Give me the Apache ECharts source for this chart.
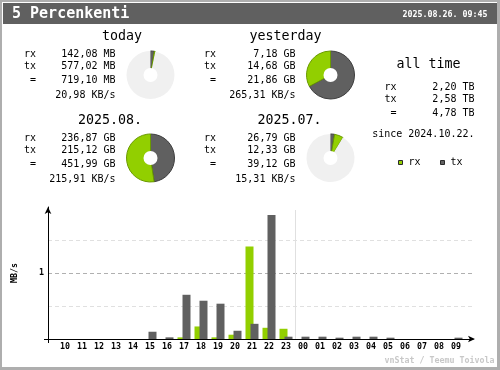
<!DOCTYPE html>
<html><head><meta charset="utf-8">
<script src="https://cdn.jsdelivr.net/npm/echarts@6/dist/echarts.min.js"></script>
<style>html,body{margin:0;padding:0;background:#fff}#c{width:500px;height:370px}</style>
</head><body><div id="c"></div>
<script>
// ---------------- DATA ----------------
const chartTitle = '5 Percenkenti';
const dateText = '2025.08.26. 09:45';
const periodNames = ['today', 'yesterday', '2025.08.', '2025.07.'];
const rxValues = [142.08, 7.18, 236.87, 26.79];
const rxUnits = ['MB', 'GB', 'GB', 'GB'];
const txValues = [577.02, 14.68, 215.12, 12.33];
const txUnits = ['MB', 'GB', 'GB', 'GB'];
const totalValues = [719.10, 21.86, 451.99, 39.12];
const totalUnits = ['MB', 'GB', 'GB', 'GB'];
const rateValues = [20.98, 265.31, 215.91, 15.31];
const rateUnit = 'KB/s';
const allTimeTitle = 'all time';
const allTimeLabels = ['rx', 'tx', '='];
const allTimeValues = [2.20, 2.58, 4.78];
const allTimeUnit = 'TB';
const sinceText = 'since 2024.10.22.';
const legendNames = ['rx', 'tx'];
const hourLabels = ['10','11','12','13','14','15','16','17','18','19','20','21','22','23',
                    '00','01','02','03','04','05','06','07','08','09'];
const rxRate = [0, 0, 0, 0, 0, 0, 0, 0.025, 0.19, 0.025, 0.065, 1.40, 0.17, 0.155,
                0, 0, 0, 0, 0, 0, 0, 0, 0, 0];
const txRate = [0, 0, 0, 0, 0, 0.11, 0.025, 0.67, 0.58, 0.535, 0.125, 0.23, 1.88, 0.035,
                0.035, 0.035, 0.02, 0.035, 0.035, 0.02, 0, 0, 0, 0.02];
const yTickLabels = [1];
const yAxisName = 'MB/s';
const footerText = 'vnStat / Teemu Toivola';

// ---------------- STYLE / LAYOUT ----------------
const GREEN = '#92cf00', GREEN_D = '#6a9a00';
const GRAY = '#606060', GRAY_D = '#3e3e3e';
const MONO = '"DejaVu Sans Mono"';
const pieCenters = [[150.5, 75], [330.5, 75], [150.5, 158], [330.5, 158]];
const pairOf = [1, 0, 3, 2];
const titlePos = [[122, 37], [285.5, 37], [110, 121], [289.5, 121]];
const labelX = [24, 204, 24, 204];
const valueRight = [115.5, 295.5, 115.5, 295.5];
const rowY = [[54, 66, 80, 95], [54, 66, 80, 95], [138, 150, 164, 179], [138, 150, 164, 179]];

const unitMB = { MB: 1, GB: 1024, TB: 1024 * 1024 };
const toMB = (v, u) => v * unitMB[u];
const fmt = v => v.toFixed(2).replace('.', ',');

function txt(text, x, y, font, align, color) {
  return {
    type: 'text', silent: true,
    style: { text: text, x: x, y: y, font: font, fill: color || '#000',
      textAlign: align || 'left', textVerticalAlign: 'middle',
      align: align || 'left', verticalAlign: 'middle' }
  };
}
const F10 = '10px ' + MONO;
const F13 = '13.3px ' + MONO;

const graphics = [
  { type: 'rect', silent: true, shape: { x: 0, y: 0, width: 2, height: 370 }, style: { fill: '#aeaeae' } },
  { type: 'rect', silent: true, shape: { x: 0, y: 0, width: 500, height: 2 }, style: { fill: '#aeaeae' } },
  { type: 'rect', silent: true, shape: { x: 497, y: 0, width: 3, height: 370 }, style: { fill: '#aeaeae' } },
  { type: 'rect', silent: true, shape: { x: 0, y: 367, width: 500, height: 3 }, style: { fill: '#aeaeae' } },
  { type: 'rect', silent: true, shape: { x: 3, y: 3, width: 494, height: 21 }, style: { fill: GRAY } },
  txt(chartTitle, 12, 14, 'bold 15px ' + MONO, 'left', '#fff'),
  txt(dateText, 487.5, 14.5, 'bold 8.3px ' + MONO, 'right', '#fff'),
  txt(footerText, 494.5, 361, 'bold 8.3px ' + MONO, 'right', '#c8c8c8')
];

const series = [];
periodNames.forEach(function (name, i) {
  graphics.push(txt(name, titlePos[i][0], titlePos[i][1], F13, 'center'));
  graphics.push(txt('rx', labelX[i], rowY[i][0], F10, 'left'));
  graphics.push(txt('tx', labelX[i], rowY[i][1], F10, 'left'));
  graphics.push(txt('=', labelX[i] + 6, rowY[i][2], F10, 'left'));
  graphics.push(txt(fmt(rxValues[i]) + ' ' + rxUnits[i], valueRight[i], rowY[i][0], F10, 'right'));
  graphics.push(txt(fmt(txValues[i]) + ' ' + txUnits[i], valueRight[i], rowY[i][1], F10, 'right'));
  graphics.push(txt(fmt(totalValues[i]) + ' ' + totalUnits[i], valueRight[i], rowY[i][2], F10, 'right'));
  graphics.push(txt(fmt(rateValues[i]) + ' ' + rateUnit, valueRight[i], rowY[i][3], F10, 'right'));

  const rx = toMB(rxValues[i], rxUnits[i]);
  const tx = toMB(txValues[i], txUnits[i]);
  const tot = toMB(totalValues[i], totalUnits[i]);
  const j = pairOf[i];
  const base = Math.max(tot, toMB(totalValues[j], totalUnits[j]));
  const rest = Math.max(0, base - rx - tx);
  const common = {
    type: 'pie', center: pieCenters[i], startAngle: 90, clockwise: true, silent: true,
    animation: false, label: { show: false }, labelLine: { show: false },
    emphasis: { disabled: true, scale: false }, avoidLabelOverlap: false
  };
  series.push(Object.assign({}, common, {
    radius: [0, 24], z: 3,
    data: [
      { name: 'tx', value: tx, itemStyle: { color: GRAY, borderColor: GRAY_D, borderWidth: 1 } },
      { name: 'rx', value: rx, itemStyle: { color: GREEN, borderColor: GREEN_D, borderWidth: 1 } },
      { name: 'rest', value: rest, itemStyle: { color: '#f0f0f0', borderWidth: 0 } }
    ]
  }));
  series.push(Object.assign({}, common, {
    radius: [0, 7], z: 4,
    data: [{ name: 'hole', value: 1, itemStyle: { color: '#ffffff', borderWidth: 0 } }]
  }));
});

// all time block
graphics.push(txt(allTimeTitle, 428.5, 65, F13, 'center'));
const atY = [87.5, 99.5, 113];
allTimeLabels.forEach(function (l, k) {
  graphics.push(txt(l, l === '=' ? 390.5 : 384.5, atY[k], F10, 'left'));
  graphics.push(txt(fmt(allTimeValues[k]) + ' ' + allTimeUnit, 474.5, atY[k], F10, 'right'));
});
graphics.push(txt(sinceText, 474.5, 134, F10, 'right'));
// legend
const legendX = [398.5, 440.5];
[GREEN, GRAY].forEach(function (c, k) {
  graphics.push({ type: 'rect', silent: true, shape: { x: legendX[k], y: 160.5, width: 4, height: 4 },
    style: { fill: c, stroke: '#2a2a2a', lineWidth: 1 } });
  graphics.push(txt(legendNames[k], legendX[k] + 10, 162.5, F10, 'left'));
});

// bar chart
const cats = [''].concat(hourLabels, [' ']);
const splitAt = hourLabels.indexOf('00'); // boundary between '23' and '00' (padded indices splitAt, splitAt+1)
series.unshift({
  type: 'custom', coordinateSystem: 'cartesian2d', silent: true, animation: false, z: 1,
  data: [[splitAt, splitAt + 1]],
  renderItem: function (params, api) {
    const a = api.coord([api.value(0), 0]);
    const b = api.coord([api.value(1), 0]);
    const t = api.coord([api.value(0), 2]);
    const o = api.coord([0, 0]);
    const x = Math.round((a[0] + b[0]) / 2) + 0.5;
    return { type: 'group', children: [
      { type: 'line', shape: { x1: x, y1: a[1], x2: x, y2: t[1] + 3 }, style: { stroke: '#e0e0e0', lineWidth: 1 } },
      { type: 'line', shape: { x1: o[0] - 4, y1: Math.round(o[1]) + 0.5, x2: o[0], y2: Math.round(o[1]) + 0.5 }, style: { stroke: '#000', lineWidth: 1 } }
    ] };
  }
});
series.push({
  type: 'bar', name: 'rx', data: [null].concat(rxRate, [null]), barWidth: 8, barGap: '-37.5%',
  itemStyle: { color: GREEN }, silent: true, animation: false, z: 2
});
series.push({
  type: 'bar', name: 'tx', data: [null].concat(txRate, [null]), barWidth: 8, barGap: '-37.5%',
  itemStyle: { color: GRAY }, silent: true, animation: false, z: 2
});

const axisFont = { fontFamily: MONO, fontSize: 8.3, fontWeight: 'bold', color: '#000' };
const option = {
  backgroundColor: '#ffffff',
  animation: false,
  grid: { left: 48, right: 27, top: 207, bottom: 31, containLabel: false, outerBoundsMode: 'none' },
  xAxis: {
    type: 'category', data: cats, boundaryGap: false,
    axisLine: { show: true, lineStyle: { color: '#000', width: 1 }, symbol: ['none', 'arrow'], symbolSize: [5, 7], symbolOffset: [0, 2] },
    axisTick: { show: true, interval: function (i) { return i === 0; }, length: 4, lineStyle: { color: '#000' } },
    axisLabel: Object.assign({ interval: 0, margin: 4, hideOverlap: false }, axisFont),
    splitLine: { show: false }
  },
  yAxis: {
    type: 'value', min: 0, max: 2, interval: 0.5,
    name: yAxisName, nameLocation: 'middle', nameRotate: 90, nameGap: 29, nameMoveOverlap: false,
    nameTextStyle: axisFont,
    axisLine: { show: true, lineStyle: { color: '#000', width: 1 }, symbol: ['none', 'arrow'], symbolSize: [5, 7] },
    axisTick: { show: false },
    axisLabel: Object.assign({ margin: 4, customValues: yTickLabels,
      formatter: function (v) { return yTickLabels.indexOf(v) >= 0 ? String(v) : ''; } }, axisFont),
    splitLine: { show: true, showMaxLine: false, lineStyle: { color: ['#b0b0b0', '#e0e0e0'], type: [4, 3], width: 1 } }
  },
  graphic: graphics,
  series: series
};
const chart = echarts.init(document.getElementById('c'), null, { renderer: 'canvas' });
chart.setOption(option);
</script></body></html>
